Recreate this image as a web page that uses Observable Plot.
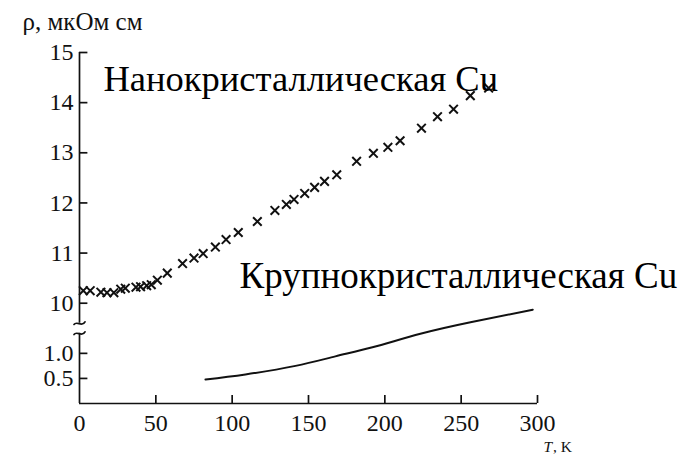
<!DOCTYPE html>
<html>
<head>
<meta charset="utf-8">
<script src="https://cdn.jsdelivr.net/npm/d3@7"></script>
<script src="https://cdn.jsdelivr.net/npm/@observablehq/plot@0.6"></script>
<style>
  html, body { margin: 0; padding: 0; background: #fff; }
  svg { font-family: "Liberation Serif", "DejaVu Serif", serif; }
</style>
</head>
<body>
<div id="chart"></div>
<script>
// Nanocrystalline Cu: temperature (K) and resistivity (µΩ·cm)
const nanoT = [2.5, 7, 14, 18, 22.5, 27, 30, 37, 40, 44, 47, 51, 57.5, 67.5, 75, 81, 89, 96, 104, 116.5, 128, 135.5, 140.5, 147.5, 154, 160.5, 168.5, 181.5, 192.5, 202, 210, 224, 234.5, 245, 256, 268];
const nanoRho = [10.25, 10.25, 10.22, 10.21, 10.21, 10.28, 10.30, 10.32, 10.33, 10.35, 10.37, 10.46, 10.60, 10.79, 10.90, 10.99, 11.12, 11.27, 11.41, 11.63, 11.85, 11.97, 12.07, 12.19, 12.31, 12.43, 12.56, 12.83, 12.99, 13.11, 13.24, 13.49, 13.72, 13.87, 14.14, 14.29];
// Coarse-grained Cu
const coarseT = [82.5, 108.7, 141.5, 167.6, 191.9, 223.3, 256.1, 296.9];
const coarseRho = [0.48, 0.58, 0.75, 0.94, 1.12, 1.39, 1.62, 1.87];

// Broken axis: values >= 10 are shown shifted down by this offset
const breakOffset = 8;
const xTicks = [0, 50, 100, 150, 200, 250, 300];
const yTickValues = [0.5, 1.0, 10, 11, 12, 13, 14, 15];
const yTickLabels = ["0.5", "1.0", "10", "11", "12", "13", "14", "15"];
const yAxisLabel = "ρ, мкОм см";
const labelNano = "Нанокристаллическая Cu";
const labelCoarse = "Крупнокристаллическая Cu";

const disp = v => v >= 10 ? v - breakOffset : v;

const nano = nanoT.map((t, i) => ({t, v: disp(nanoRho[i])}));
const coarse = coarseT.map((t, i) => ({t, v: coarseRho[i]}));
const yTicks = yTickValues.map((v, i) => ({v: disp(v), label: yTickLabels[i]}));
const breakLow = 1.40, breakHigh = 1.60;
const ink = "#111";
const serif = "Liberation Serif";

// small tilde glyph drawn as a path for the axis break
const tilde = {
  draw(context, l) {
    const w = l / 2;
    context.moveTo(-w, 1.2);
    context.bezierCurveTo(-w / 2, -3, w / 2, 4.5, w, -1.5);
  }
};

const chart = Plot.plot({
  width: 694,
  height: 456,
  marginLeft: 79,
  marginRight: 157,
  marginTop: 52,
  marginBottom: 53,
  x: {domain: [0, 300], axis: null},
  y: {domain: [0, 7], axis: null},
  style: {background: "#fff", color: ink, fontFamily: serif},
  marks: [
    // x axis line and inward ticks
    Plot.ruleY([0], {x1: 0, x2: 300, stroke: ink, strokeWidth: 1.7}),
    Plot.ruleX(xTicks.slice(1), {x: d => d, y1: 0, y2: 0.16, stroke: ink, strokeWidth: 1.7}),
    Plot.text(xTicks, {x: d => d, y: 0, text: d => String(d), dy: 20, lineAnchor: "middle", fontSize: 24, fontFamily: serif, fill: ink}),
    // y axis line with break
    Plot.ruleX([0], {y1: 0, y2: breakLow, stroke: ink, strokeWidth: 1.7}),
    Plot.ruleX([0], {y1: breakHigh, y2: 7, stroke: ink, strokeWidth: 1.7}),
    Plot.vector([breakLow, breakHigh], {x: 0, y: d => d, length: 11, rotate: 0, anchor: "start", shape: tilde, stroke: ink, strokeWidth: 1.7}),
    Plot.ruleY(yTicks, {y: "v", x1: 0, x2: 5.5, stroke: ink, strokeWidth: 1.7}),
    Plot.text(yTicks, {x: 0, y: "v", text: "label", dx: -6, textAnchor: "end", fontSize: 24, fontFamily: serif, fill: ink}),
    // axis titles
    Plot.text([yAxisLabel], {x: -37.3, y: 7.44, text: d => d, textAnchor: "start", lineAnchor: "bottom", fontSize: 25, fontFamily: serif, fill: ink}),
    Plot.text(["T"], {x: 303.9, y: -0.87, text: d => d, textAnchor: "start", fontSize: 15.5, fontStyle: "italic", fontFamily: serif, fill: ink}),
    Plot.text([", K"], {x: 310.2, y: -0.87, text: d => d, textAnchor: "start", fontSize: 15.5, fontFamily: serif, fill: ink}),
    // data
    Plot.line(coarse, {x: "t", y: "v", curve: "natural", stroke: ink, strokeWidth: 2}),
    Plot.dot(nano, {x: "t", y: "v", symbol: "times", r: 4, stroke: ink, strokeWidth: 2}),
    // annotations
    Plot.text([labelNano], {x: 15.7, y: 6.46, text: d => d, textAnchor: "start", fontSize: 36.5, fontFamily: serif, fill: "#000"}),
    Plot.text([labelCoarse], {x: 104.8, y: 2.54, text: d => d, textAnchor: "start", fontSize: 37, fontFamily: serif, fill: "#000"})
  ]
});
document.getElementById("chart").appendChild(chart);
</script>
</body>
</html>
